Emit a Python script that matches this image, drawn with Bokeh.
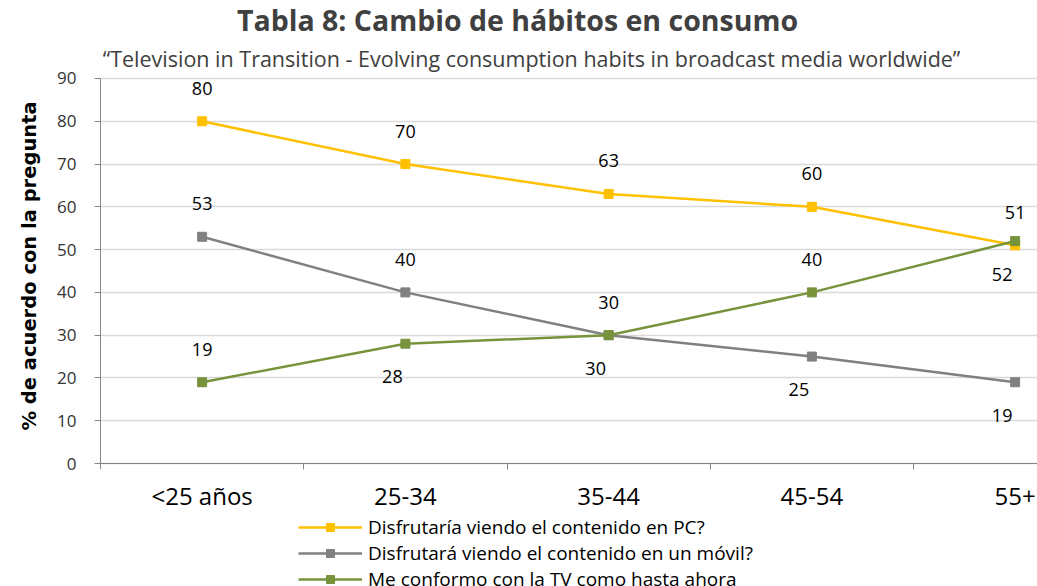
from bokeh.plotting import figure
from bokeh.models import Range1d, FixedTicker, Legend, LegendItem, Label, Title
from bokeh.core.properties import value
from bokeh.embed import file_html
from bokeh.resources import INLINE

categories = ["<25 años", "25-34", "35-44", "45-54", "55+"]
pc = [80, 70, 63, 60, 51]
movil = [53, 40, 30, 25, 19]
tv = [19, 28, 30, 40, 52]
series_names = ["Disfrutaría viendo el contenido en PC?",
                "Disfrutará viendo el contenido en un móvil?",
                "Me conformo con la TV como hasta ahora"]
# label placement: +1 above, -1 below
pc_pos = [1, 1, 1, 1, 1]
movil_pos = [1, 1, 1, -1, -1]
tv_pos = [1, -1, -1, 1, -1]

colors = ["#FFC000", "#808080", "#77933C"]

W, H = 1037, 586
# frame covers full height; y=0..90 maps to pixel rows 463..78
p = figure(width=W, height=H, output_backend="svg", toolbar_location=None,
           x_range=Range1d(-0.5, 4.11), y_range=Range1d(-28.75, 108.23),
           min_border_left=100, min_border_right=0, min_border_top=0, min_border_bottom=0,
           background_fill_color="white", border_fill_color="white")
p.outline_line_color = None
p.title = None

xs = list(range(len(categories)))

# x axis drawn at y = 0
p.xaxis.fixed_location = 0
p.xaxis.ticker = FixedTicker(ticks=xs, minor_ticks=[-0.5, 0.5, 1.5, 2.5, 3.5])
p.xaxis.major_label_overrides = {i: c for i, c in enumerate(categories)}
p.xaxis.major_tick_out = 0
p.xaxis.major_tick_in = 0
p.xaxis.minor_tick_out = 6
p.xaxis.minor_tick_in = 0
p.xaxis.minor_tick_line_color = "#868686"
p.xaxis.axis_line_color = "#868686"
p.xaxis.major_label_text_font = "Open Sans"
p.xaxis.major_label_text_font_size = "24px"
p.xaxis.major_label_text_color = "#000000"
p.xaxis.major_label_standoff = 9

p.yaxis.ticker = FixedTicker(ticks=list(range(0, 91, 10)))
p.yaxis.bounds = (-1.2, 90)
p.yaxis.major_tick_out = 6
p.yaxis.major_tick_in = 0
p.yaxis.minor_tick_line_color = None
p.yaxis.axis_line_color = "#868686"
p.yaxis.major_tick_line_color = "#868686"
p.yaxis.major_label_text_font = "Open Sans"
p.yaxis.major_label_text_font_size = "17px"
p.yaxis.major_label_text_color = "#333333"
p.yaxis.major_label_standoff = 18

p.add_layout(Title(text="% de acuerdo con la pregunta", align="left", offset=156,
                   standoff=28, text_font="DejaVu Sans", text_font_style="bold",
                   text_font_size="19.5px", text_color="#000000"), "left")

p.xgrid.grid_line_color = None
p.ygrid.grid_line_color = "#D9D9D9"
p.ygrid.grid_line_width = 1.5

items = []
for vals, pos, col, name in [(pc, pc_pos, colors[0], series_names[0]),
                             (movil, movil_pos, colors[1], series_names[1]),
                             (tv, tv_pos, colors[2], series_names[2])]:
    l = p.line(xs, vals, line_color=col, line_width=2.5)
    s = p.scatter(xs, vals, marker="square", size=9, fill_color=col, line_color=col)
    items.append(LegendItem(label=name, renderers=[l, s]))
    above_x = [x for x, q in zip(xs, pos) if q > 0]
    above_v = [v for v, q in zip(vals, pos) if q > 0]
    below_x = [x for x, q in zip(xs, pos) if q < 0]
    below_v = [v for v, q in zip(vals, pos) if q < 0]
    p.text(above_x, above_v, text=[str(v) for v in above_v], y_offset=-33,
           text_align="center", text_baseline="middle", text_font=value("Open Sans"),
           text_font_size="18px", text_color="#000000")
    p.text(below_x, below_v, text=[str(v) for v in below_v], y_offset=33, x_offset=-13,
           text_align="center", text_baseline="middle", text_font=value("Open Sans"),
           text_font_size="18px", text_color="#000000")

legend = Legend(items=items, location=(198, -6), orientation="vertical",
                label_text_font="Open Sans", label_text_font_size="19px",
                label_text_color="#000000", glyph_width=64, glyph_height=20,
                label_standoff=6, spacing=0, padding=0, margin=0,
                border_line_color=None, background_fill_alpha=0)
p.add_layout(legend, "center")

p.add_layout(Label(x=417, y=567, x_units="screen", y_units="screen",
                   text="Tabla 8: Cambio de hábitos en consumo", text_align="center",
                   text_baseline="middle", text_font="Open Sans", text_font_style="bold",
                   text_font_size="28.5px", text_color="#404040"))
p.add_layout(Label(x=431, y=528, x_units="screen", y_units="screen",
                   text="\u201cTelevision in Transition - Evolving consumption habits in broadcast media worldwide\u201d",
                   text_align="center", text_baseline="middle", text_font="Open Sans",
                   text_font_size="21.5px", text_color="#404040"))

open("out.html", "w").write(file_html(p, INLINE))
